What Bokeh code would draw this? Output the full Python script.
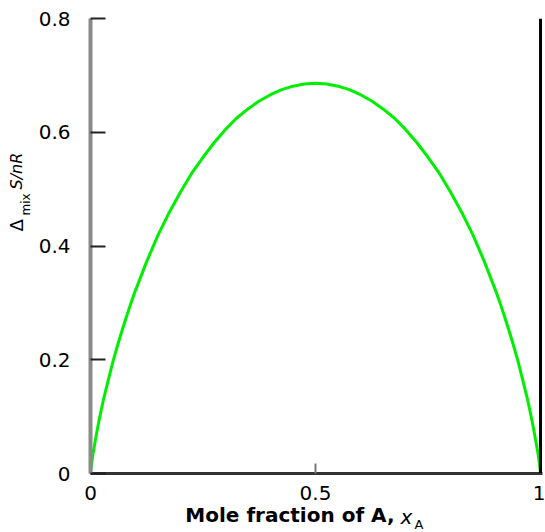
from bokeh.plotting import figure
from bokeh.models import Range1d, FixedTicker, Span, Title
from bokeh.embed import file_html
from bokeh.resources import INLINE

# Values
x_frac = [0.0, 0.0005, 0.002, 0.005, 0.01, 0.015, 0.02, 0.025, 0.03, 0.04, 0.05, 0.06, 0.07, 0.08, 0.09,
          0.10, 0.125, 0.15, 0.175, 0.20, 0.225, 0.25, 0.275, 0.30, 0.325, 0.35, 0.375, 0.40, 0.425, 0.45, 0.475,
          0.50, 0.525, 0.55, 0.575, 0.60, 0.625, 0.65, 0.675, 0.70, 0.725, 0.75, 0.775, 0.80, 0.825, 0.85, 0.875,
          0.90, 0.91, 0.92, 0.93, 0.94, 0.95, 0.96, 0.97, 0.975, 0.98, 0.985, 0.99, 0.995, 0.998, 0.9995, 1.0]
s_mix = [0.0, 0.004, 0.014, 0.032, 0.055, 0.077, 0.097, 0.116, 0.134, 0.166, 0.197, 0.225, 0.251, 0.276, 0.300,
         0.322, 0.373, 0.419, 0.459, 0.495, 0.528, 0.556, 0.582, 0.605, 0.625, 0.641, 0.655, 0.666, 0.675, 0.681, 0.685,
         0.686, 0.685, 0.681, 0.675, 0.666, 0.655, 0.641, 0.625, 0.605, 0.582, 0.556, 0.528, 0.495, 0.459, 0.419, 0.373,
         0.322, 0.300, 0.276, 0.251, 0.225, 0.197, 0.166, 0.134, 0.116, 0.097, 0.077, 0.055, 0.032, 0.014, 0.004, 0.0]

x_ticks = [0, 0.5, 1]
x_tick_labels = ["0", "0.5", "1"]
y_ticks = [0, 0.2, 0.4, 0.6, 0.8]
y_tick_labels = ["0", "0.2", "0.4", "0.6", "0.8"]

FONT = "DejaVu Sans"

p = figure(width=545, height=532, output_backend="svg", toolbar_location=None,
           x_range=Range1d(0, 1.0044), y_range=Range1d(0, 0.8),
           min_border_left=90, min_border_right=3, min_border_top=18, min_border_bottom=59)
p.outline_line_color = None
p.grid.visible = False
p.background_fill_color = "white"
p.border_fill_color = "white"

# x axis
xa = p.xaxis[0]
xa.ticker = FixedTicker(ticks=x_ticks)
xa.major_label_overrides = {t: l for t, l in zip(x_ticks, x_tick_labels)}
xa.minor_tick_line_color = None
xa.major_tick_in = 10
xa.major_tick_out = 0
xa.major_tick_line_color = "#777777"
xa.major_tick_line_width = 2
xa.axis_line_color = "#333333"
xa.axis_line_width = 3
xa.major_label_text_font = FONT
xa.major_label_text_font_size = "20px"
xa.major_label_text_color = "black"
xa.major_label_standoff = 12

# y axis
ya = p.yaxis[0]
ya.ticker = FixedTicker(ticks=y_ticks)
ya.major_label_overrides = {t: l for t, l in zip(y_ticks, y_tick_labels)}
ya.minor_tick_line_color = None
ya.major_tick_in = 15
ya.major_tick_out = 0
ya.major_tick_line_color = "#222222"
ya.major_tick_line_width = 2
ya.axis_line_color = "#8a8a8a"
ya.axis_line_width = 4
ya.major_label_text_font = FONT
ya.major_label_text_font_size = "20px"
ya.major_label_text_color = "black"
ya.major_label_standoff = 20

# right boundary line
p.add_layout(Span(location=1.0, dimension="height", line_color="black", line_width=3))

# curve
p.line(x_frac, s_mix, line_color="#00ee00", line_width=3)


def title(text, size, style, align, offset, standoff, valign="top"):
    return Title(text=text, align=align, offset=offset, standoff=standoff, vertical_align=valign,
                 text_font=FONT, text_font_size=size, text_font_style=style, text_color="black")


# x axis title: "Mole fraction of A, x_A" (pieces in the bottom panel)
p.add_layout(title("Mole fraction of A,", "20px", "bold", "right", 148, 0), "below")
p.add_layout(title("x", "20px", "italic", "left", 310, -48), "below")
p.add_layout(title("A", "13px", "normal", "left", 324, -24), "below")

# y axis title: "Δ_mix S/nR" (pieces in the left panel, rotated)
p.add_layout(title("mix", "12px", "normal", "left", 258, 2), "left")
p.add_layout(title("Δ", "18px", "normal", "left", 242, -24), "left")
p.add_layout(title("S/nR", "16px", "italic", "left", 284, -20), "left")

open("out.html", "w").write(file_html(p, INLINE))
